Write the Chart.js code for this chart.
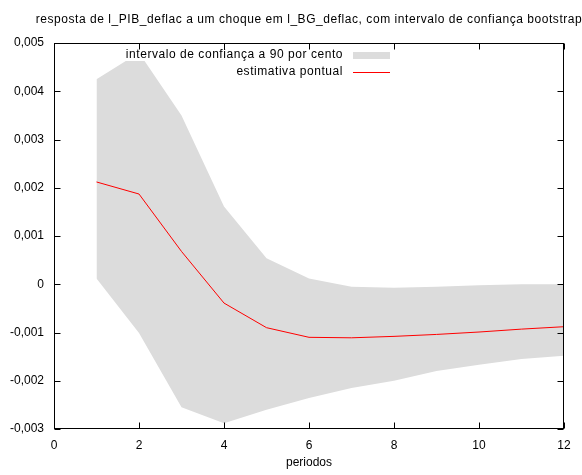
<!DOCTYPE html>
<html>
<head>
<meta charset="utf-8">
<script src="https://cdn.jsdelivr.net/npm/chart.js@4/dist/chart.umd.min.js"></script>
<style>
  html, body { margin: 0; padding: 0; background: #fff; }
  #wrap { width: 582px; height: 475px; }
</style>
</head>
<body>
<div id="wrap"><canvas id="irf" width="582" height="475"></canvas></div>
<script>
// resposta ao impulso com banda bootstrap
const titulo = 'resposta de l_PIB_deflac a um choque em l_BG_deflac, com intervalo de confiança bootstrap';
const rotuloX = 'periodos';
const rotulosLegenda = ['intervalo de confiança a 90 por cento', 'estimativa pontual'];

const periodos = [1, 2, 3, 4, 5, 6, 7, 8, 9, 10, 11, 12];
const limiteSuperior = [0.00425, 0.00480, 0.00350, 0.00161, 0.00054, 0.00012, -0.00005, -0.00007, -0.00005, -0.00002, 0.00000, 0.00000];
const estimativa = [0.00212, 0.00187, 0.00068, -0.00039, -0.00090, -0.00110, -0.00111, -0.00108, -0.00104, -0.00099, -0.00093, -0.00088];
const limiteInferior = [0.00012, -0.00101, -0.00255, -0.00288, -0.00260, -0.00236, -0.00215, -0.00200, -0.00180, -0.00167, -0.00155, -0.00148];

const fonte = "'Liberation Sans', Arial, sans-serif";
const cinza = '#dcdcdc';
const vermelho = '#ff0000';

function pontos(valores) {
  return periodos.map((p, i) => ({ x: p, y: valores[i] }));
}

function fmtY(v) {
  if (Math.abs(v) < 1e-9) return '0';
  return v.toFixed(3).replace('.', ',');
}

// moldura estilo gnuplot: caixa, marcas para dentro, titulo e legenda
const moldura = {
  id: 'moldura',
  afterDatasetsDraw(chart) {
    const ctx = chart.ctx;
    const { left, right, top, bottom } = chart.chartArea;
    const sx = chart.scales.x, sy = chart.scales.y;
    ctx.save();
    ctx.font = '12px ' + fonte;
    ctx.letterSpacing = '0.55px';

    // fundo opaco da legenda
    const fimTexto = 343, amostraIni = 353, amostraFim = 390;
    const linhas = [55, 72];
    ctx.fillStyle = '#fff';
    rotulosLegenda.forEach((txt, i) => {
      const w = ctx.measureText(txt).width;
      ctx.fillRect(fimTexto - w - 3, linhas[i] - 7, amostraFim + 8 - (fimTexto - w - 3), 13);
    });

    // caixa
    ctx.strokeStyle = '#000';
    ctx.lineWidth = 1;
    const L = Math.round(left) + 0.5, R = Math.round(right) - 0.5;
    const T = Math.round(top) + 0.5, B = Math.round(bottom) - 0.5;
    ctx.strokeRect(L, T, R - L, B - T);

    // marcas
    const tam = 6;
    ctx.beginPath();
    sy.ticks.forEach(t => {
      const py = Math.round(sy.getPixelForValue(t.value)) + 0.5;
      ctx.moveTo(L, py); ctx.lineTo(L + tam, py);
      ctx.moveTo(R, py); ctx.lineTo(R - tam, py);
    });
    sx.ticks.forEach(t => {
      const px = Math.round(sx.getPixelForValue(t.value)) + 0.5;
      ctx.moveTo(px, B); ctx.lineTo(px, B - tam);
      ctx.moveTo(px, T); ctx.lineTo(px, T + tam);
    });
    ctx.stroke();

    // titulo
    ctx.fillStyle = '#000';
    ctx.textAlign = 'center';
    ctx.textBaseline = 'alphabetic';
    ctx.fillText(titulo, (left + right) / 2, 23);

    // legenda
    ctx.textAlign = 'right';
    ctx.textBaseline = 'middle';
    ctx.fillText(rotulosLegenda[0], fimTexto, linhas[0]);
    ctx.fillText(rotulosLegenda[1], fimTexto, linhas[1]);
    ctx.fillStyle = cinza;
    ctx.fillRect(amostraIni, linhas[0] - 3, amostraFim - amostraIni, 7);
    ctx.strokeStyle = vermelho;
    ctx.beginPath();
    ctx.moveTo(amostraIni, linhas[1] + 0.5);
    ctx.lineTo(amostraFim, linhas[1] + 0.5);
    ctx.stroke();
    ctx.restore();
  }
};

new Chart(document.getElementById('irf'), {
  type: 'line',
  data: {
    datasets: [
      {
        label: rotulosLegenda[0],
        data: pontos(limiteSuperior),
        borderWidth: 0,
        pointRadius: 0,
        backgroundColor: cinza,
        fill: 1,
        order: 1
      },
      {
        label: 'inferior',
        data: pontos(limiteInferior),
        borderWidth: 0,
        pointRadius: 0,
        fill: false,
        order: 2
      },
      {
        label: rotulosLegenda[1],
        data: pontos(estimativa),
        borderColor: vermelho,
        borderWidth: 1,
        pointRadius: 0,
        fill: false,
        order: 0
      }
    ]
  },
  options: {
    responsive: false,
    animation: false,
    devicePixelRatio: 1,
    layout: { padding: { top: 43, right: 18, left: 0, bottom: 0 } },
    plugins: {
      legend: { display: false },
      tooltip: { enabled: false },
      title: { display: false }
    },
    scales: {
      x: {
        type: 'linear',
        min: 0,
        max: 12,
        grid: { display: false, drawTicks: false },
        border: { display: false },
        ticks: { stepSize: 2, padding: 9, color: '#000', font: { family: fonte, size: 12 } },
        title: {
          display: true,
          text: rotuloX,
          color: '#000',
          font: { family: fonte, size: 12 },
          padding: { top: 0, bottom: 5.5 }
        },
        afterFit(s) { s.height = 46; }
      },
      y: {
        min: -0.003,
        max: 0.005,
        grid: { display: false, drawTicks: false },
        border: { display: false },
        ticks: {
          stepSize: 0.001,
          padding: 10,
          color: '#000',
          font: { family: fonte, size: 12 },
          callback: v => fmtY(v)
        },
        afterFit(s) { s.width = 54; }
      }
    }
  },
  plugins: [moldura]
});
</script>
</body>
</html>
